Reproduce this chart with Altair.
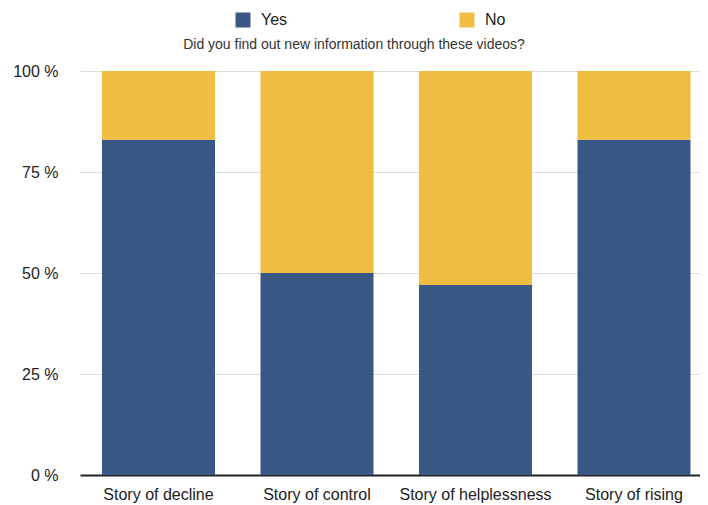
import altair as alt
import pandas as pd

categories = ["Story of decline", "Story of control", "Story of helplessness", "Story of rising"]
yes_values = [83, 50, 47, 83]
no_values = [17, 50, 53, 17]
series = ["Yes", "No"]
colors = ["#395886", "#EEBD41"]
y_ticks = [0, 25, 50, 75, 100]

rows = []
for c, y, n in zip(categories, yes_values, no_values):
    rows.append({"story": c, "answer": "Yes", "value": y, "ord": 0})
    rows.append({"story": c, "answer": "No", "value": n, "ord": 1})
df = pd.DataFrame(rows)

chart = alt.Chart(df).mark_bar().encode(
    x=alt.X("story:N", sort=categories, title=None,
            scale=alt.Scale(paddingInner=0.287, paddingOuter=0.0994, align=0.698),
            axis=alt.Axis(labelAngle=0, ticks=False, labelPadding=11, labelFontSize=16,
                          labelColor="#222222", labelFont="Liberation Sans",
                          domainColor="#222222", domainWidth=2, grid=False)),
    y=alt.Y("value:Q", stack="zero", title=None,
            scale=alt.Scale(domain=[0, 100], nice=False),
            axis=alt.Axis(values=y_ticks, labelExpr="datum.value + ' %'", ticks=False,
                          domain=False, labelPadding=22, labelFontSize=16,
                          labelColor="#222222", labelFont="Liberation Sans",
                          gridColor="#dddddd", gridWidth=1.2)),
    color=alt.Color("answer:N", sort=series,
                    scale=alt.Scale(domain=series, range=colors),
                    legend=alt.Legend(title=None, orient="none", legendX=155, legendY=-59,
                                      direction="horizontal", columns=2, padding=0,
                                      symbolType="square", symbolSize=225, symbolStrokeWidth=0,
                                      labelFontSize=16, labelColor="#222222",
                                      labelFont="Liberation Sans", labelOffset=10,
                                      columnPadding=171)),
    order=alt.Order("ord:Q"),
).properties(
    width=620,
    height=404,
    autosize=alt.AutoSizeParams(type="none"),
    padding={"left": 72, "top": 63, "right": 0, "bottom": 28},
    title=alt.TitleParams("Did you find out new information through these videos?",
                          anchor="middle", frame="group", fontSize=14, fontWeight="normal",
                          font="Liberation Sans", color="#333333", offset=0, dx=-36, dy=40),
).configure_view(stroke=None)

chart.save("out.html", embed_options={"renderer": "svg", "actions": False})
